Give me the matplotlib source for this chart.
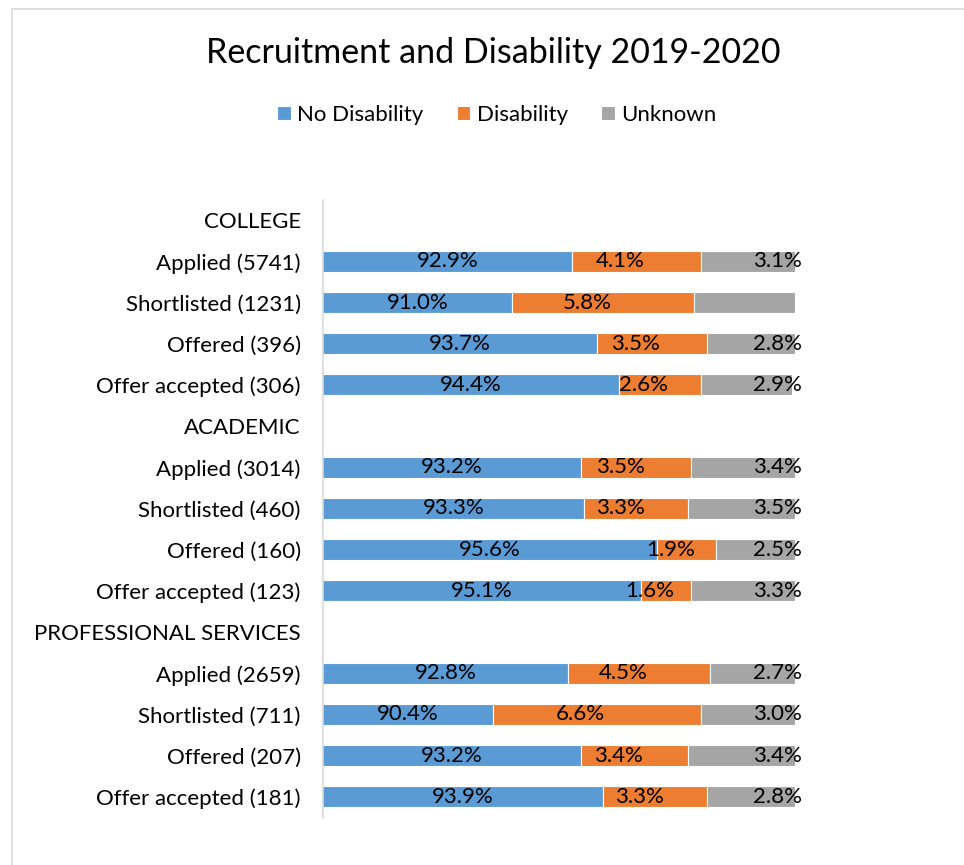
import numpy as np
import matplotlib
matplotlib.use("Agg")
import matplotlib.pyplot as plt
from matplotlib.patches import Rectangle

plt.rcParams['font.family'] = ['Lato', 'DejaVu Sans']

categories = ["COLLEGE", "Applied (5741)", "Shortlisted (1231)", "Offered (396)", "Offer accepted (306)",
              "ACADEMIC", "Applied (3014)", "Shortlisted (460)", "Offered (160)", "Offer accepted (123)",
              "PROFESSIONAL SERVICES", "Applied (2659)", "Shortlisted (711)", "Offered (207)", "Offer accepted (181)"]
no_disability = [np.nan, 92.9, 91.0, 93.7, 94.4, np.nan, 93.2, 93.3, 95.6, 95.1, np.nan, 92.8, 90.4, 93.2, 93.9]
disability = [np.nan, 4.1, 5.8, 3.5, 2.6, np.nan, 3.5, 3.3, 1.9, 1.6, np.nan, 4.5, 6.6, 3.4, 3.3]
unknown = [np.nan, 3.1, 3.2, 2.8, 2.9, np.nan, 3.4, 3.5, 2.5, 3.3, np.nan, 2.7, 3.0, 3.4, 2.8]
# the unknown share for college shortlisted has no data label
show_unknown = [False, True, False, True, True, False, True, True, True, True, False, True, True, True, True]

colors = ['#5B9BD5', '#ED7D31', '#A5A5A5']
xmin, xmax = 85, 100

fig = plt.figure(figsize=(9.64, 8.65), dpi=100)
ax = fig.add_axes([323/964, 1 - 817.5/865, 472/964, 618/865])

y = np.arange(len(categories))
nd = np.array(no_disability)
d = np.array(disability)
u = np.array(unknown)

ax.barh(y, nd, height=0.51, color=colors[0], edgecolor='white', linewidth=0.8, label='No Disability')
ax.barh(y, d, left=nd, height=0.51, color=colors[1], edgecolor='white', linewidth=0.8, label='Disability')
ax.barh(y, u, left=nd + d, height=0.51, color=colors[2], edgecolor='white', linewidth=0.8, label='Unknown')

for i in range(len(categories)):
    if np.isnan(nd[i]):
        continue
    ax.text((xmin + nd[i]) / 2, y[i], f"{nd[i]:.1f}%", ha='center', va='center', fontsize=16)
    ax.annotate(f"{d[i]:.1f}%", (nd[i] + d[i] / 2, y[i]), xytext=(-16, 0), textcoords='offset pixels',
                ha='center', va='center', fontsize=16)
    if show_unknown[i]:
        ax.annotate(f"{u[i]:.1f}%", (xmax, y[i]), xytext=(7, 0), textcoords='offset pixels',
                    ha='right', va='center', fontsize=16, annotation_clip=False)

ax.set_xlim(xmin, xmax)
ax.set_ylim(len(categories) - 0.5, -0.5)
ax.set_yticks(y)
ax.set_yticklabels(categories, fontsize=16)
ax.tick_params(axis='y', length=0, pad=16)
ax.set_xticks([])
for s in ['top', 'right', 'bottom']:
    ax.spines[s].set_visible(False)
ax.spines['left'].set_color('#d9d9d9')
ax.spines['left'].set_linewidth(1.2)

fig.text(493/964, 1 - 53/865, "Recruitment and Disability 2019-2020", ha='center', va='center', fontsize=24.5)
fig.legend(loc='center', bbox_to_anchor=(497/964, 1 - 115/865), ncol=3, frameon=False, fontsize=16,
           handlelength=0.6, handleheight=0.6, handletextpad=0.3, columnspacing=1.5)

# chart area border
fig.add_artist(Rectangle((12/964, -0.1), 1.0, 1.1 - 9/865, transform=fig.transFigure,
                         fill=False, edgecolor='#d9d9d9', linewidth=1.2))

fig.savefig('out.png', dpi=100)
